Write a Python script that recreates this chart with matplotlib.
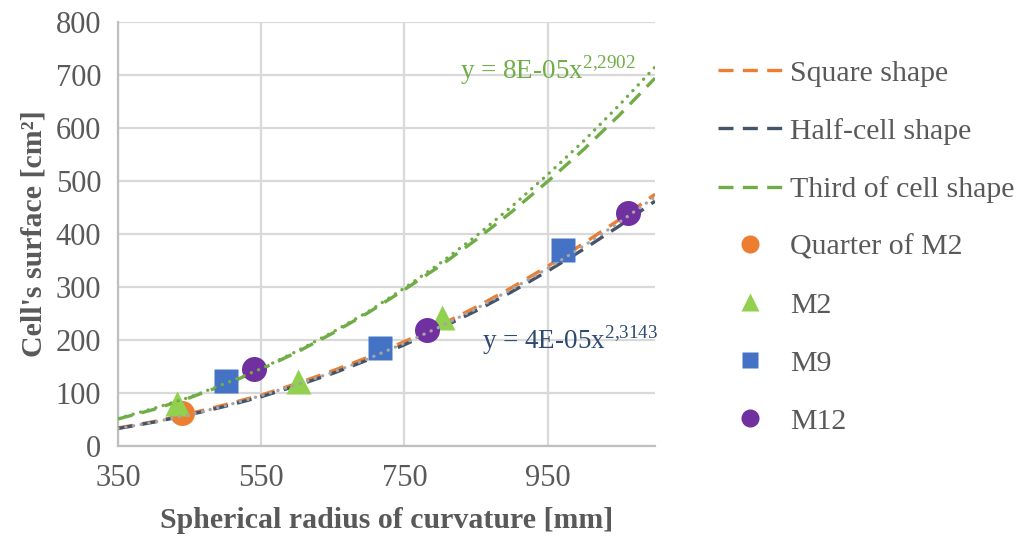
import matplotlib
matplotlib.use("Agg")
import matplotlib.pyplot as plt
from matplotlib.lines import Line2D

plt.rcParams['font.family'] = ['Liberation Serif', 'DejaVu Serif']
plt.rcParams['mathtext.fontset'] = 'custom'
plt.rcParams['mathtext.rm'] = 'Liberation Serif'

# Radius grid (mm) at which the shape curves are sampled
radius = [350, 400, 450, 500, 550, 600, 650, 700, 750, 800, 850, 900, 950, 1000, 1050, 1100]

# Cell surface (cm²) for each cell shape
square_shape = [34, 46, 61, 78, 96, 118, 142, 168, 197, 228, 262, 299, 339, 382, 427, 475]
half_cell_shape = [33, 45, 59, 75, 93, 114, 137, 163, 191, 222, 255, 291, 330, 371, 415, 462]
third_cell_shape = [51, 69, 91, 116, 145, 177, 213, 252, 295, 340, 389, 442, 499, 559, 624, 694]

# Power trendlines
trend_third = [52, 71, 92, 118, 146, 179, 215, 254, 298, 345, 396, 452, 512, 575, 643, 715]
trend_half = [33, 45, 59, 76, 95, 116, 139, 165, 194, 225, 259, 296, 335, 377, 422, 470]

# Module measurements
quarter_m2_x = [440]
quarter_m2_y = [62]
m2_x = [432, 602, 802]
m2_y = [81, 122, 244]
m9_x = [501, 716, 972]
m9_y = [123, 185, 370]
m12_x = [540, 781, 1062]
m12_y = [145, 219, 440]

x_ticks = [350, 550, 750, 950]
y_ticks = [0, 100, 200, 300, 400, 500, 600, 700, 800]

ORANGE = '#ED7D31'
NAVY = '#44546A'
GREEN = '#70AD47'
LGREEN = '#92D050'
BLUE = '#4472C4'
PURPLE = '#7030A0'
GREY = '#A5A5A5'
TXT = '#595959'

fig = plt.figure(figsize=(10.18, 5.40), dpi=100)
ax = fig.add_axes([118 / 1018, 1 - 446 / 540, (655 - 118) / 1018, (446 - 22) / 540])

lw = 2.4
dash = (4.5, 2.8)
dot = (0.05, 2.3)

ax.plot(radius, square_shape, color=ORANGE, lw=lw, dashes=dash, zorder=3)
ax.plot(radius, half_cell_shape, color=NAVY, lw=lw, dashes=dash, zorder=3)
ax.plot(radius, third_cell_shape, color=GREEN, lw=lw, dashes=dash, zorder=3)

ax.plot(quarter_m2_x, quarter_m2_y, 'o', color=ORANGE, ms=18, mec='none', zorder=4)
ax.plot(m2_x, m2_y, '^', color=LGREEN, ms=18, mec='none', zorder=4)
ax.plot(m9_x, m9_y, 's', color=BLUE, ms=17, mec='none', zorder=4)
ax.plot(m12_x, m12_y, 'o', color=PURPLE, ms=18, mec='none', zorder=4)

ax.plot(radius, trend_third, color=GREEN, lw=lw, dashes=dot,
        dash_capstyle='round', zorder=5)
ax.plot(radius, trend_half, color=GREY, lw=lw, dashes=dot,
        dash_capstyle='round', zorder=5)

ax.text(828, 709, r'y = 8E-05x$^{\mathrm{2{,}2902}}$', color=GREEN, fontsize=19.5,
        va='center', ha='left', zorder=6)
ax.text(858, 200, r'y = 4E-05x$^{\mathrm{2{,}3143}}$', color='#2E4A6E', fontsize=19.5,
        va='center', ha='left', zorder=6)

ax.set_xlim(350, 1100)
ax.set_ylim(0, 800)
ax.set_xticks(x_ticks)
ax.set_yticks(y_ticks)
ax.tick_params(axis='both', length=0, labelsize=22, labelcolor=TXT)
ax.tick_params(axis='x', pad=13)
ax.tick_params(axis='y', pad=12)
ax.grid(True, color='#D9D9D9', lw=1.6, zorder=0)
ax.set_axisbelow(True)
for side in ('top', 'right'):
    ax.spines[side].set_visible(False)
for side in ('left', 'bottom'):
    ax.spines[side].set_color('#BFBFBF')
    ax.spines[side].set_linewidth(1.6)

ax.set_xlabel('Spherical radius of curvature [mm]', fontsize=21.5, fontweight='bold',
              color=TXT, labelpad=10)
ax.set_ylabel("Cell's surface [cm²]", fontsize=21.5, fontweight='bold', color=TXT,
              labelpad=6)

handles = [
    Line2D([], [], color=ORANGE, lw=lw, dashes=dash),
    Line2D([], [], color=NAVY, lw=lw, dashes=dash),
    Line2D([], [], color=GREEN, lw=lw, dashes=dash),
    Line2D([], [], ls='none', marker='o', color=ORANGE, ms=13, mec='none'),
    Line2D([], [], ls='none', marker='^', color=LGREEN, ms=13, mec='none'),
    Line2D([], [], ls='none', marker='s', color=BLUE, ms=12, mec='none'),
    Line2D([], [], ls='none', marker='o', color=PURPLE, ms=13, mec='none'),
]
labels = ['Square shape', 'Half-cell shape', 'Third of cell shape',
          'Quarter of M2', 'M2', 'M9', 'M12']
leg = fig.legend(handles, labels, loc='upper left',
                 bbox_to_anchor=(718 / 1018, 1 - 60 / 540),
                 frameon=False, fontsize=21.5, handlelength=2.17,
                 handletextpad=0.25, labelspacing=1.04, borderpad=0,
                 borderaxespad=0)
for t in leg.get_texts():
    t.set_color(TXT)

fig.savefig('out.png', dpi=100)
